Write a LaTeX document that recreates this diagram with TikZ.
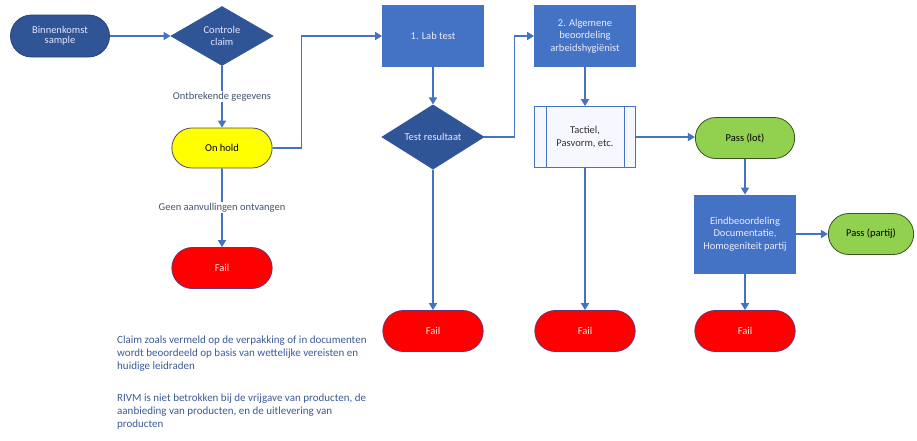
\documentclass[tikz,border=0pt]{standalone}
\usepackage{fontspec}
\setmainfont{Carlito}
\usetikzlibrary{shapes.geometric, shapes.misc, arrows.meta}
\definecolor{basedarkblue}{RGB}{47,85,151}
\definecolor{baseblue}{RGB}{68,114,196}
\definecolor{basered}{RGB}{255,0,0}
\definecolor{basegreen}{RGB}{146,208,80}
\definecolor{baseyellow}{RGB}{255,255,0}
\definecolor{textblue}{RGB}{60,90,150}
\definecolor{labelgray}{RGB}{68,84,106}

\begin{document}
\begin{tikzpicture}[x=1pt, y=-1pt, font=\fontsize{10.5}{12.5}\selectfont]
  \tikzset{
    start_term/.style={
      rounded rectangle, draw=basedarkblue!80!black, fill=basedarkblue, text=white!90!blue, thick,
      minimum width=103pt, minimum height=42pt, inner sep=2pt
    },
    decision/.style={
      diamond, draw=basedarkblue, fill=basedarkblue, text=white!90!blue, thick,
      minimum width=102pt, minimum height=59pt, inner sep=0pt, align=center
    },
    step_box/.style={
      rectangle, draw=baseblue, fill=baseblue, text=white!92!blue, thick,
      minimum width=101pt, minimum height=61pt, align=center, inner sep=2pt
    },
    sub_box/.style={
      rectangle, draw=baseblue, fill=blue!3, text=black!80, thick,
      minimum width=101pt, minimum height=61pt, align=center, inner sep=2pt
    },
    fail_term/.style={
      rounded rectangle, draw=basedarkblue!60!purple, fill=basered, text=white!90!red, thick,
      minimum width=107pt, minimum height=41pt
    },
    pass_term/.style={
      rounded rectangle, draw=basegreen!40!black, fill=basegreen, text=black, thick,
      minimum width=#1, minimum height=41pt
    },
    hold_term/.style={
      rounded rectangle, draw=black!70, fill=baseyellow, text=black, thick,
      minimum width=107pt, minimum height=40pt
    },
    flow_arrow/.style={-{Triangle[width=8pt,length=7pt]}, draw=baseblue, line width=1.6pt},
    edge_label/.style={fill=white, text=labelgray, inner sep=1pt},
    note_text/.style={text=textblue, align=left, anchor=north west, inner sep=0pt,
      font=\fontsize{11}{13}\selectfont}
  }

  \useasboundingbox (0,0) rectangle (917,440);

  % left column
  \node[start_term] (start) at (60,36) {\begin{tabular}{@{}c@{}}Binnenkomst\\[-2pt]sample\end{tabular}};
  \node[decision] (claim) at (222,36) {Controle\\claim};
  \node[hold_term] (onhold) at (222,148) {On hold};
  \node[fail_term] (fail_a) at (222,268) {Fail};

  % lab test and evaluation
  \node[step_box] (lab) at (433,36) {1. Lab test};
  \node[decision] (test) at (433,137) {Test resultaat};
  \node[step_box] (alg) at (585,36) {2. Algemene\\beoordeling\\arbeidshygiënist};
  \node[sub_box] (tact) at (585,137) {Tactiel,\\Pasvorm, etc.};
  \draw[baseblue, thick] ([xshift=12pt]tact.north west) -- ([xshift=12pt]tact.south west);
  \draw[baseblue, thick] ([xshift=-12pt]tact.north east) -- ([xshift=-12pt]tact.south east);
  \node[pass_term=106pt] (lot) at (745,138) {Pass (lot)};
  \node[step_box, minimum height=78pt] (eind) at (745,234) {Eindbeoordeling\\Documentatie,\\Homogeniteit partij};
  \node[pass_term=92pt] (partij) at (871,234) {Pass (partij)};

  \foreach \name/\xpos in {fail_b/433, fail_c/585, fail_d/745} {
    \node[fail_term] (\name) at (\xpos,331) {Fail};
  }

  % connectors
  \draw[flow_arrow] (start) -- (claim);
  \draw[flow_arrow] (claim) -- node[edge_label] {Ontbrekende gegevens} (onhold);
  \draw[flow_arrow] (onhold) -- node[edge_label] {Geen aanvullingen ontvangen} (fail_a);
  \draw[flow_arrow] (onhold.east) -- ++(29,0) |- (lab.west);
  \draw[flow_arrow] (lab) -- (test);
  \draw[flow_arrow] (test.east) -- ++(30,0) |- (alg.west);
  \draw[flow_arrow] (alg) -- (tact);
  \draw[flow_arrow] (tact) -- (tact.east -| lot.west);
  \draw[flow_arrow] (lot) -- (eind);
  \draw[flow_arrow] (eind) -- (partij);
  \draw[flow_arrow] (test) -- (fail_b);
  \draw[flow_arrow] (tact) -- (fail_c);
  \draw[flow_arrow] (eind) -- (fail_d);

  % notes
  \node[note_text] (note_claim) at (117,336) {Claim zoals vermeld op de verpakking of in documenten\\wordt beoordeeld op basis van wettelijke vereisten en\\huidige leidraden};
  \node[note_text] (note_rivm) at (117,394) {RIVM is niet betrokken bij de vrijgave van producten, de\\aanbieding van producten, en de uitlevering van\\producten};
\end{tikzpicture}
\end{document}
